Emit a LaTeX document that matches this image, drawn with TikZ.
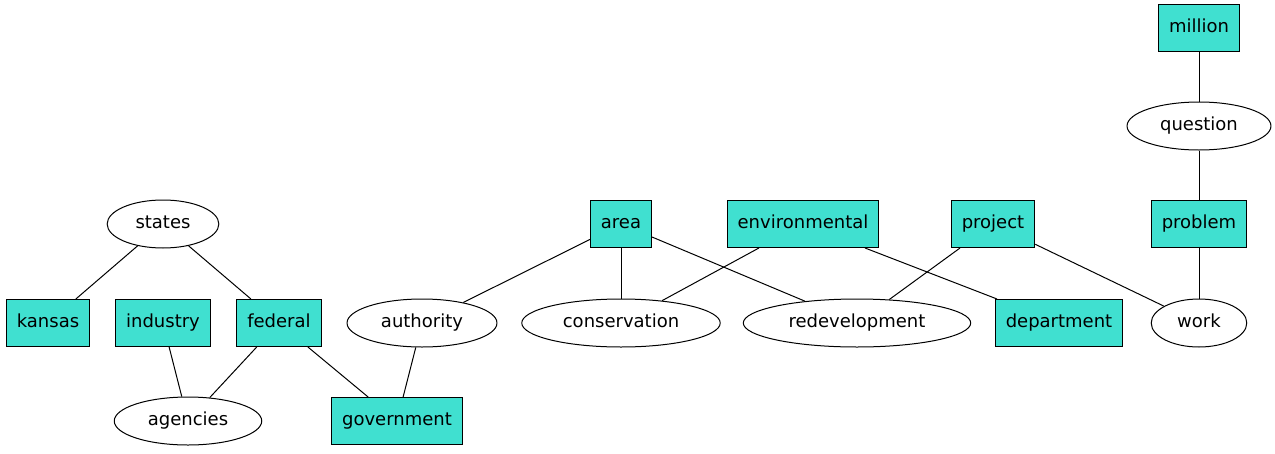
\documentclass[tikz,border=0pt]{standalone}
\usepackage{fontspec}
\setmainfont{DejaVu Sans}
\usetikzlibrary{shapes.geometric}

\begin{document}
\begin{tikzpicture}[x=1pt, y=-1pt, line width=1pt,
    word/.style = {draw, fill={rgb,255:red,64;green,224;blue,208}, minimum height=47pt, inner xsep=10.5pt, text height=13pt, text depth=4pt, font=\fontsize{18}{20}\selectfont},
    term/.style = {draw, ellipse, minimum height=48pt, inner xsep=12pt, inner ysep=0pt, text height=13pt, text depth=4pt, font=\fontsize{18}{20}\selectfont}]
                \useasboundingbox (0,0) rectangle (1275,453);
                \node[word] (million) at (1199,28) {million};
                \node[term] (question) at (1199,126) {question};
                \node[word] (problem) at (1199,224) {problem};
                \node[term] (work) at (1199,323) {work};
                \node[word] (project) at (993,224) {project};
                \node[word] (environmental) at (803,224) {environmental};
                \node[word] (area) at (621,224) {area};
                \node[term] (states) at (163,224) {states};
                \node[word] (kansas) at (48,323) {kansas};
                \node[word] (industry) at (163,323) {industry};
                \node[word] (federal) at (279,323) {federal};
                \node[term] (authority) at (422,323) {authority};
                \node[term] (conservation) at (621,323) {conservation};
                \node[term] (redevelopment) at (857,323) {redevelopment};
                \node[word] (department) at (1059,323) {department};
                \node[term] (agencies) at (188,421) {agencies};
                \node[word] (government) at (397,421) {government};
                \draw (million) -- (question);
                \draw (question) -- (problem);
                \draw (problem) -- (work);
                \draw (project) -- (work);
                \draw (project) -- (redevelopment);
                \draw (environmental) -- (conservation);
                \draw (environmental) -- (department);
                \draw (area) -- (authority);
                \draw (area) -- (conservation);
                \draw (area) -- (redevelopment);
                \draw (states) -- (kansas);
                \draw (states) -- (federal);
                \draw (industry) -- (agencies);
                \draw (federal) -- (agencies);
                \draw (federal) -- (government);
                \draw (authority) -- (government);
            \end{tikzpicture}
\end{document}
